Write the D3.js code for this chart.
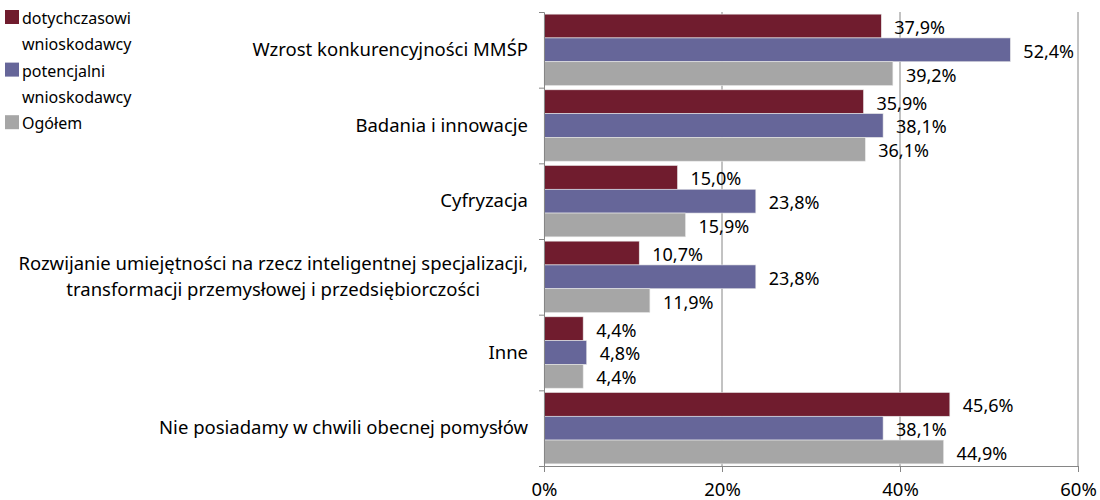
<!DOCTYPE html>
<html>
<head>
<meta charset="utf-8">
<script src="https://cdn.jsdelivr.net/npm/d3@7"></script>
<style>
body { margin:0; background:#fff; }
text { font-family: "Noto Sans", "Open Sans", sans-serif; fill:#000; }
</style>
</head>
<body>
<div class="fig"></div>
<script>
var categories = [
  ["Wzrost konkurencyjności MMŚP"],
  ["Badania i innowacje"],
  ["Cyfryzacja"],
  ["Rozwijanie umiejętności na rzecz inteligentnej specjalizacji,", "transformacji przemysłowej i przedsiębiorczości"],
  ["Inne"],
  ["Nie posiadamy w chwili obecnej pomysłów"]
];
var seriesNames = [["dotychczasowi", "wnioskodawcy"], ["potencjalni", "wnioskodawcy"], ["Ogółem"]];
var dotychczasowi = [37.9, 35.9, 15.0, 10.7, 4.4, 45.6];
var potencjalni = [52.4, 38.1, 23.8, 23.8, 4.8, 38.1];
var ogolem = [39.2, 36.1, 15.9, 11.9, 4.4, 44.9];
var xTicks = [0, 20, 40, 60];
var colors = ["#701c2e", "#666699", "#a6a6a6"];

var series = [dotychczasowi, potencjalni, ogolem];

const svg = d3.select(".fig")
  .append("svg")
  .attr("width", 1100)
  .attr("height", 500);

var plotLeft = 544, plotRight = 1078, plotTop = 12, plotBottom = 466;

var x = d3.scaleLinear().domain([0, 60]).range([plotLeft, plotRight]);
var y = d3.scaleBand().domain(d3.range(categories.length)).range([plotTop, plotBottom]).paddingInner(0).paddingOuter(0);
var yInner = d3.scaleBand().domain([0, 1, 2]).range([0, y.bandwidth()]).paddingOuter(0.09).paddingInner(0);

// gridlines
svg.append("g").selectAll("line")
  .data(xTicks.slice(1))
  .enter().append("line")
  .attr("x1", function(d) { return x(d); })
  .attr("x2", function(d) { return x(d); })
  .attr("y1", plotTop)
  .attr("y2", plotBottom)
  .attr("stroke", "#868686")
  .attr("stroke-width", 1);

// bars
var groups = svg.append("g").selectAll("g")
  .data(categories)
  .enter().append("g")
  .attr("transform", function(d, i) { return "translate(0," + y(i) + ")"; });

groups.each(function(c, i) {
  var g = d3.select(this);
  series.forEach(function(s, k) {
    g.append("rect")
      .attr("x", x(0))
      .attr("y", yInner(k))
      .attr("width", x(s[i]) - x(0))
      .attr("height", yInner.bandwidth())
      .attr("fill", colors[k])
      .attr("stroke", "#e8e8e8")
      .attr("stroke-width", 0.6);
    g.append("text")
      .attr("x", x(s[i]) + 13)
      .attr("y", yInner(k) + yInner.bandwidth() / 2 + 8)
      .style("font-size", "18px")
      .text(s[i].toFixed(1).replace(".", ",") + "%");
  });
});

// x axis
var xAxis = svg.append("g")
  .attr("transform", "translate(0," + plotBottom + ")")
  .call(d3.axisBottom(x).tickValues(xTicks).tickFormat(function(d) { return d + "%"; }).tickSize(6).tickSizeOuter(0));
xAxis.select(".domain").attr("stroke", "#868686");
xAxis.selectAll("line").attr("stroke", "#868686");
xAxis.selectAll("text").style("font-size", "18.5px").attr("dy", "1.15em").attr("fill", "#000");

// y axis
var yAxis = svg.append("g")
  .attr("transform", "translate(" + plotLeft + ",0)")
  .call(d3.axisLeft(d3.scaleLinear().domain([0, categories.length]).range([plotTop, plotBottom]))
    .ticks(categories.length).tickFormat("").tickSize(5).tickSizeOuter(5));
yAxis.select(".domain").attr("stroke", "#868686");
yAxis.selectAll("line").attr("stroke", "#868686");

// category labels
categories.forEach(function(lines, i) {
  var cy = y(i) + y.bandwidth() / 2;
  var t = svg.append("text")
    .style("font-size", "18.5px");
  lines.forEach(function(l, j) {
    t.append("tspan")
      .attr("y", cy + 6 + (j - (lines.length - 1) / 2) * 26)
      .text(l);
  });
  var widths = [];
  t.selectAll("tspan").each(function() { widths.push(this.getComputedTextLength()); });
  var maxW = d3.max(widths);
  t.attr("text-anchor", "middle");
  t.selectAll("tspan").attr("x", 528 - maxW / 2);
});

// legend
var ly = 22;
seriesNames.forEach(function(name, k) {
  svg.append("rect")
    .attr("x", 5).attr("y", ly - 12)
    .attr("width", 14).attr("height", 14)
    .attr("fill", colors[k]);
  name.forEach(function(line) {
    svg.append("text")
      .attr("x", 22).attr("y", ly + 2)
      .style("font-size", "16px")
      .text(line);
    ly += 26.3;
  });
});
</script>
</body>
</html>
